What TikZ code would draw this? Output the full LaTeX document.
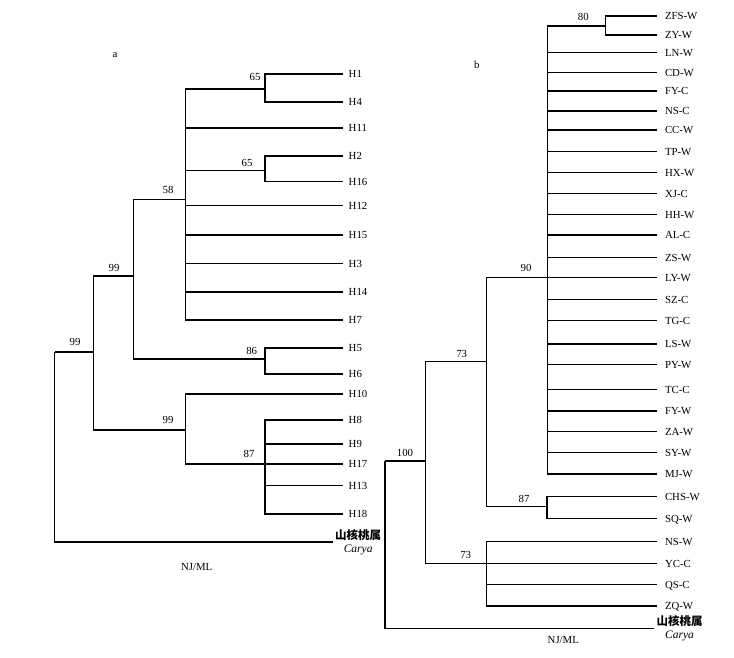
\documentclass[tikz,border=0pt]{standalone}
\usepackage{fontspec}
\setmainfont{Liberation Serif}
\newfontfamily\cjk{Noto Sans CJK SC}
\tikzstyle{branch} = [draw, line width=1.3pt]
\tikzstyle{leaf} = [anchor=west, inner xsep=5.5pt, inner ysep=0pt,
    text height=7pt, text depth=0pt, font=\fontsize{10.8}{13}\selectfont]
\tikzstyle{leafb} = [leaf, inner xsep=7.5pt]
\tikzstyle{boot} = [inner sep=0pt, font=\fontsize{10.8}{13}\selectfont]
\tikzstyle{outgroup} = [anchor=west, align=center, inner xsep=2pt,
    inner ysep=0pt, font=\fontsize{11.5}{12.6}\selectfont]

\begin{document}
\begin{tikzpicture}[x=1pt,y=-1pt]
\useasboundingbox (0,0) rectangle (734,657);

% tree a
\coordinate (ra) at (54.5,352);
\coordinate (a99o) at (93.5,352);
\coordinate (a99i) at (133.5,276);
\coordinate (a58) at (185.5,199.5);
\coordinate (a65a) at (265,89);
\coordinate (a65b) at (265,170.5);
\coordinate (a86) at (265,359);
\coordinate (a99l) at (185.5,430);
\coordinate (a87) at (265,464);

\foreach \n/\y in {H1/74,H4/102,H11/128,H2/156,H16/181.5,H12/205.5,
    H15/235,H3/263.5,H14/292,H7/320,H5/348,H6/374,H10/394,
    H8/420,H9/444,H17/464,H13/485.5,H18/514}
  \node[leaf] (\n) at (343,\y) {\n};
\node[outgroup] (carA) at (333,542) {{\cjk\bfseries 山核桃属}\\{\itshape Carya}};

\draw[branch] (ra) -- (a99o);
\draw[branch] (ra) |- (carA.west);
\draw[branch] (a99o) |- (a99i);
\draw[branch] (a99o) |- (a99l);
\draw[branch] (a99i) |- (a58);
\draw[branch] (a99i) |- (a86);
\draw[branch] (a58) |- (a65a);
\draw[branch] (a58) |- (a65b);
\foreach \n in {H11,H12,H15,H3,H14,H7}
  \draw[branch] (a58) |- (\n.west);
\draw[branch] (a65a) |- (H1.west);
\draw[branch] (a65a) |- (H4.west);
\draw[branch] (a65b) |- (H2.west);
\draw[branch] (a65b) |- (H16.west);
\draw[branch] (a86) |- (H5.west);
\draw[branch] (a86) |- (H6.west);
\draw[branch] (a99l) |- (H10.west);
\draw[branch] (a99l) |- (a87);
\foreach \n in {H8,H9,H17,H13,H18}
  \draw[branch] (a87) |- (\n.west);

\node[boot] (ba65a) at (255,77) {65};
\node[boot] (ba65b) at (247,163) {65};
\node[boot] (ba58) at (168,190) {58};
\node[boot] (ba99i) at (114,267.7) {99};
\node[boot] (ba86) at (251.7,350.7) {86};
\node[boot] (ba99o) at (75,341.7) {99};
\node[boot] (ba99l) at (168,420) {99};
\node[boot] (ba87) at (249,454) {87};

\node[boot] (tagA) at (115,55) {a};
\node[boot] (methA) at (196.7,566.7) {NJ/ML};

% tree b
\coordinate (rb) at (385,461);
\coordinate (b100) at (425.5,461);
\coordinate (b73u) at (486.5,361.5);
\coordinate (b73l) at (486.5,563.5);
\coordinate (b90) at (547.5,277.5);
\coordinate (b80) at (605.5,26);
\coordinate (b87) at (547,506.5);

\foreach \n/\t/\y in {zfsw/ZFS-W/16,zyw/ZY-W/35,lnw/LN-W/52.5,cdw/CD-W/72.5,
    fyc/FY-C/91,nsc/NS-C/111,ccw/CC-W/130,tpw/TP-W/151.5,hxw/HX-W/172.5,
    xjc/XJ-C/193.5,hhw/HH-W/214.5,alc/AL-C/235,zsw/ZS-W/257.5,lyw/LY-W/277.5,
    szc/SZ-C/299.5,tgc/TG-C/320.5,lsw/LS-W/344,pyw/PY-W/364.5,tcc/TC-C/389.5,
    fyw/FY-W/411,zaw/ZA-W/431.5,syw/SY-W/452.5,mjw/MJ-W/474,chsw/CHS-W/496.5,
    sqw/SQ-W/518.5,nsw/NS-W/541.5,ycc/YC-C/563.5,qsc/QS-C/584.5,zqw/ZQ-W/606}
  \node[leafb] (\n) at (657.3,\y) {\t};
\node[outgroup] (carB) at (654.3,628.5) {{\cjk\bfseries 山核桃属}\\{\itshape Carya}};

\draw[branch] (rb) -- (b100);
\draw[branch] (rb) |- (carB.west);
\draw[branch] (b100) |- (b73u);
\draw[branch] (b100) |- (b73l);
\draw[branch] (b73u) |- (b90);
\draw[branch] (b73u) |- (b87);
\draw[branch] (b90) |- (b80);
\foreach \n in {lnw,cdw,fyc,nsc,ccw,tpw,hxw,xjc,hhw,alc,zsw,lyw,szc,tgc,
    lsw,pyw,tcc,fyw,zaw,syw,mjw}
  \draw[branch] (b90) |- (\n.west);
\draw[branch] (b80) |- (zfsw.west);
\draw[branch] (b80) |- (zyw.west);
\draw[branch] (b87) |- (chsw.west);
\draw[branch] (b87) |- (sqw.west);
\foreach \n in {nsw,ycc,qsc,zqw}
  \draw[branch] (b73l) |- (\n.west);

\node[boot] (bb80) at (583.3,17.3) {80};
\node[boot] (bb90) at (526,268.3) {90};
\node[boot] (bb73u) at (461.7,354) {73};
\node[boot] (bb87) at (524,499) {87};
\node[boot] (bb73l) at (465.7,555) {73};
\node[boot] (bb100) at (405,453.3) {100};

\node[boot] (tagB) at (476.7,65) {b};
\node[boot] (methB) at (563.3,640) {NJ/ML};
\end{tikzpicture}
\end{document}
